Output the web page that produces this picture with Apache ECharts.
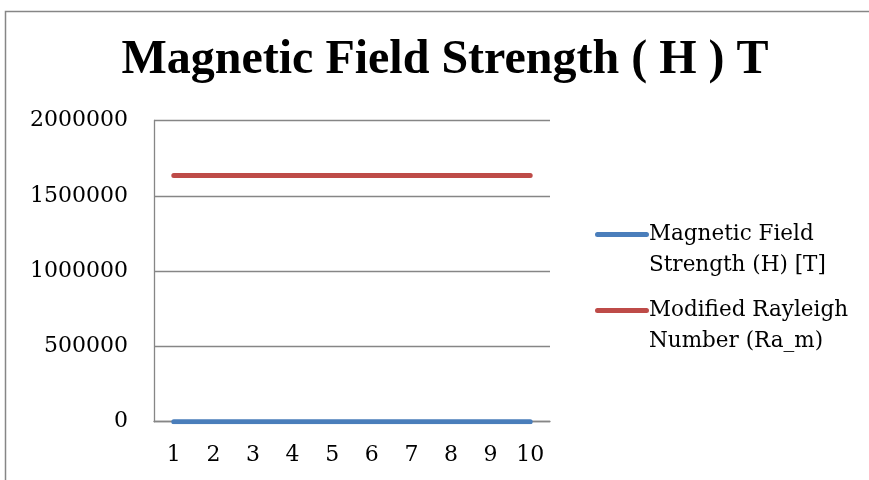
<!DOCTYPE html>
<html>
<head>
<meta charset="utf-8">
<script src="https://cdn.jsdelivr.net/npm/echarts@6/dist/echarts.min.js"></script>
<style>
html,body{margin:0;padding:0;background:#fff;}
#chart{width:869px;height:480px;}
</style>
</head>
<body>
<div id="chart"></div>
<script>
const titleText = 'Magnetic Field Strength ( H ) T';
const categories = ['1', '2', '3', '4', '5', '6', '7', '8', '9', '10'];
const seriesNames = ['Magnetic Field\nStrength (H) [T]', 'Modified Rayleigh\nNumber (Ra_m)'];
const fieldStrength = [0, 0, 0, 0, 0, 0, 0, 0, 0, 0];
const rayleighModified = [1634000, 1634000, 1634000, 1634000, 1634000, 1634000, 1634000, 1634000, 1634000, 1634000];
const yTicks = [0, 500000, 1000000, 1500000, 2000000];

const FONT = 'DejaVu Serif';
const iconPath = 'path://M2.5,0 L51.5,0 A2.5,2.5 0 0 1 51.5,5 L2.5,5 A2.5,2.5 0 0 1 2.5,0 Z M0,35.9 L0.05,35.9 L0.05,36 L0,36 Z';

const chart = echarts.init(document.getElementById('chart'));
chart.setOption({
  animation: false,
  backgroundColor: '#ffffff',
  title: {
    text: titleText,
    left: 440, textAlign: 'center',
    top: 32,
    textStyle: {fontFamily: 'Liberation Serif', fontWeight: 'bold', fontSize: 48, color: '#000'}
  },
  graphic: [{
    type: 'rect', silent: true, z: -1,
    shape: {x: 5.5, y: 11.5, width: 900, height: 600},
    style: {fill: 'none', stroke: '#868686', lineWidth: 1.5}
  }],
  legend: {
    orient: 'vertical',
    left: 590, top: 214,
    itemWidth: 54, itemHeight: 36, itemGap: 14,
    icon: iconPath,
    formatter: n => n,
    textStyle: {fontFamily: FONT, fontSize: 21.5, color: '#000', lineHeight: 31, padding: [0, 0, 0, -5]},
    data: seriesNames
  },
  grid: {left: 154, right: 319, top: 120.5, bottom: 58.3, containLabel: false},
  xAxis: {
    type: 'category', data: categories, boundaryGap: true,
    axisLine: {show: true, lineStyle: {color: '#868686', width: 1.3}},
    axisTick: {show: false},
    axisLabel: {fontFamily: FONT, fontSize: 22, color: '#000', margin: 23}
  },
  yAxis: {
    type: 'value', min: yTicks[0], max: yTicks[yTicks.length - 1], interval: yTicks[1] - yTicks[0],
    axisLine: {show: true, lineStyle: {color: '#868686', width: 1.3}},
    axisTick: {show: false},
    splitLine: {show: true, lineStyle: {color: '#868686', width: 1.3}},
    axisLabel: {fontFamily: FONT, fontSize: 22, color: '#000', margin: 26, formatter: v => String(v)}
  },
  series: [
    {name: seriesNames[0], type: 'line', data: fieldStrength, showSymbol: false, symbol: 'none',
     color: '#4a7ebb', lineStyle: {width: 5, color: '#4a7ebb', cap: 'round'}},
    {name: seriesNames[1], type: 'line', data: rayleighModified, showSymbol: false, symbol: 'none',
     color: '#be4b48', lineStyle: {width: 5, color: '#be4b48', cap: 'round'}}
  ]
});
</script>
</body>
</html>
